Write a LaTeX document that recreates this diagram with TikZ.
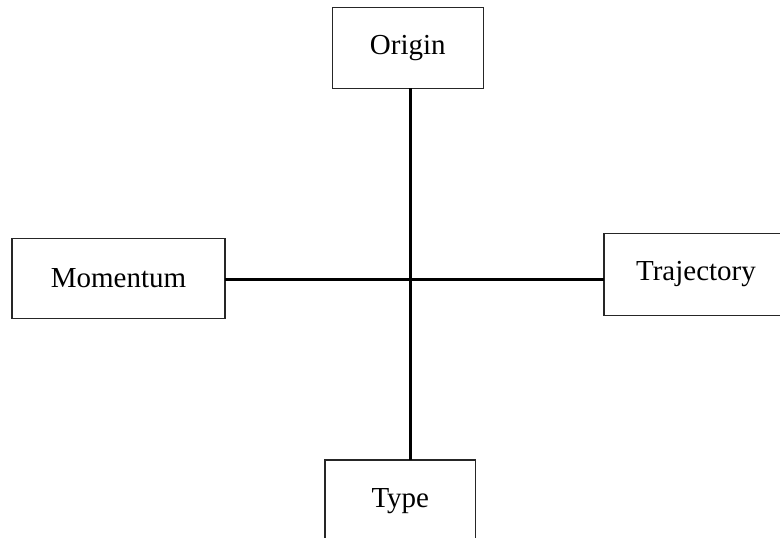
\documentclass[tikz,border=0pt]{standalone}
\usepackage{fontspec}
\setmainfont{Liberation Serif}
\begin{document}
\begin{tikzpicture}[x=1pt,y=-1pt,
  box/.style={draw=black!85, line width=1.5pt, fill=white, inner sep=0pt, outer sep=0pt,
    font=\fontsize{29}{35}\selectfont, anchor=center},
  link/.style={draw=black, line width=3pt}]
\useasboundingbox (0,0) rectangle (780,538);
\clip (0,0) rectangle (780,538);
\coordinate (c) at (410,279);
\node[box, minimum width=151pt, minimum height=81pt] (origin) at (407.8,47.8) {Origin};
\node[box, minimum width=213.4pt, minimum height=80pt] (momentum) at (118.5,278.3) {Momentum};
\node[box, minimum width=184pt, minimum height=82.4pt] (trajectory) at (696,274.5) {Trajectory};
\node[box, minimum width=150.7pt, minimum height=81.4pt] (type) at (400.3,500.7) {Type};
\draw[link] (origin.south -| c) -- (type.north -| c);
\draw[link] (momentum.east |- c) -- (trajectory.west |- c);
\end{tikzpicture}
\end{document}
